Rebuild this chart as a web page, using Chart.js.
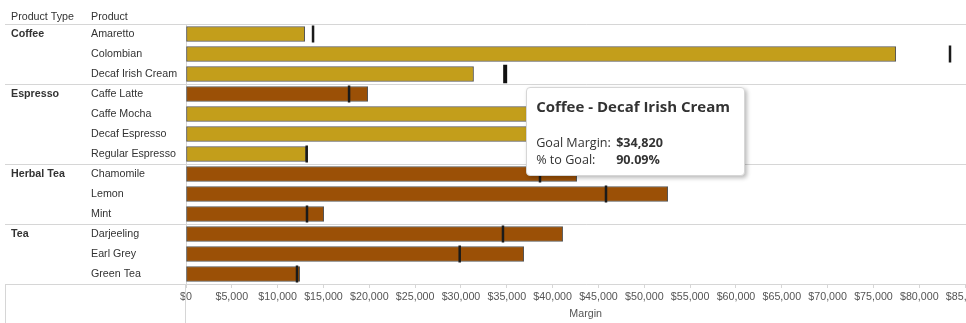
<!DOCTYPE html>
<html>
<head>
<meta charset="utf-8">
<script src="https://cdn.jsdelivr.net/npm/chart.js@4.4.0/dist/chart.umd.min.js"></script>
<style>
  body { margin: 0; overflow: hidden; background: #fff; }
  #wrap { position: relative; width: 997px; height: 323px; }
  #tip {
    position: absolute; display: none; box-sizing: border-box;
    width: 219px; height: 89px; padding: 8px 9px;
    background: #fff; border: 1px solid #d6d6d6; border-radius: 4px;
    box-shadow: 2px 2px 4px rgba(0, 0, 0, 0.28);
    font-family: "Open Sans", sans-serif; color: #333; white-space: nowrap;
  }
  #tip .t { font-size: 15px; font-weight: bold; line-height: 20px; margin-bottom: 18px; }
  #tip table { border-collapse: collapse; font-size: 12.6px; }
  #tip td { padding: 0; line-height: 17px; }
  #tip td.k { width: 80px; }
  #tip td.v { font-weight: bold; }
</style>
</head>
<body>
<div id="wrap">
  <canvas id="myChart"></canvas>
  <div id="tip"></div>
</div>
<script>
var productTypes = ['Coffee', 'Coffee', 'Coffee', 'Espresso', 'Espresso', 'Espresso', 'Espresso',
  'Herbal Tea', 'Herbal Tea', 'Herbal Tea', 'Tea', 'Tea', 'Tea'];
var products = ['Amaretto', 'Colombian', 'Decaf Irish Cream', 'Caffe Latte', 'Caffe Mocha',
  'Decaf Espresso', 'Regular Espresso', 'Chamomile', 'Lemon', 'Mint', 'Darjeeling', 'Earl Grey', 'Green Tea'];
var margins = [12950, 77430, 31370, 19820, 44500, 40800, 13090, 42620, 52550, 15020, 41090, 36840, 12400];
var goals = [13860, 83350, 34820, 17790, 51000, 46500, 13170, 38620, 45820, 13200, 34580, 29860, 12110];
var xTicks = [0, 5000, 10000, 15000, 20000, 25000, 30000, 35000, 40000, 45000,
  50000, 55000, 60000, 65000, 70000, 75000, 80000, 85000];
var shownIndex = 2;

var gold = '#c39e1b';
var brown = '#9b5006';
var lineGrey = '#d6d6d6';
var labelFont = { family: 'Liberation Sans, Arial, sans-serif', size: 10.7 };

// only the first row of each product type gets its name
var typeTicks = productTypes.map(function (t, i) {
  return i === 0 || productTypes[i - 1] !== t ? t : '';
});

function money(v) {
  return '$' + Math.round(v).toLocaleString('en-US');
}

function isGroupEdge(i) {
  if (i === undefined || i <= 0 || i >= productTypes.length) return true;
  return productTypes[i] !== productTypes[i - 1];
}

function drawTip(context) {
  var tip = document.getElementById('tip');
  var model = context.tooltip;
  if (model.opacity === 0 || !model.dataPoints || !model.dataPoints.length) {
    tip.style.display = 'none';
    return;
  }
  var i = model.dataPoints[0].dataIndex;
  var pct = margins[i] / goals[i] * 100;
  tip.innerHTML = '<div class="t">' + productTypes[i] + ' - ' + products[i] + '</div>' +
    '<table><tr><td class="k">Goal Margin:</td><td class="v">' + money(goals[i]) + '</td></tr>' +
    '<tr><td class="k">% to Goal:</td><td class="v">' + pct.toFixed(2) + '%</td></tr></table>';
  tip.style.left = (model.caretX + 21) + 'px';
  tip.style.top = (model.caretY + 13) + 'px';
  tip.style.display = 'block';
}

// column headers and the frame lines under the axis
var frame = {
  id: 'frame',
  afterDraw: function (chart) {
    var c = chart.ctx;
    var area = chart.chartArea;
    c.save();
    c.strokeStyle = lineGrey;
    c.lineWidth = 1;
    c.beginPath();
    c.moveTo(Math.round(area.left) - 0.5, area.bottom);
    c.lineTo(Math.round(area.left) - 0.5, chart.height);
    c.moveTo(5.5, area.bottom);
    c.lineTo(5.5, chart.height);
    c.stroke();
    c.fillStyle = '#333';
    c.font = labelFont.size + 'px ' + labelFont.family;
    c.textBaseline = 'middle';
    c.fillText('Product Type', chart.scales.yType.left, area.top - 7);
    c.fillText('Product', chart.scales.y.left, area.top - 7);
    c.restore();
  }
};

var ctx = document.getElementById('myChart');
var chart = new Chart(ctx, {
  data: {
    labels: products,
    datasets: [{
      type: 'bar',
      label: 'Margin',
      data: margins,
      backgroundColor: function (c) {
        return margins[c.dataIndex] >= goals[c.dataIndex] ? brown : gold;
      },
      borderColor: '#555',
      borderWidth: 1,
      borderSkipped: false,
      barThickness: 15,
      order: 1
    }, {
      type: 'line',
      label: 'Goal Margin',
      data: goals,
      showLine: false,
      pointStyle: 'line',
      pointRotation: 90,
      pointRadius: 8.4,
      pointBorderWidth: 2.5,
      pointBorderColor: '#1a1a1a',
      pointHoverRadius: 9.2,
      pointHoverBorderWidth: 4,
      pointHoverBorderColor: '#111',
      order: 0
    }]
  },
  options: {
    indexAxis: 'y',
    responsive: true,
    maintainAspectRatio: false,
    animation: false,
    events: [],
    layout: { padding: { top: 24, left: 11, right: 0, bottom: 0 } },
    plugins: {
      legend: { display: false },
      tooltip: {
        enabled: false,
        external: drawTip,
        filter: function (item) { return item.datasetIndex === 1; }
      }
    },
    scales: {
      x: {
        type: 'linear',
        min: 0,
        max: 87200,
        afterBuildTicks: function (axis) {
          axis.ticks = xTicks.map(function (v) { return { value: v }; });
        },
        afterFit: function (axis) { axis.height = 39; },
        border: { display: false },
        grid: { drawOnChartArea: false, drawTicks: true, tickLength: 4, color: lineGrey },
        ticks: {
          autoSkip: false, maxRotation: 0, padding: 3,
          color: '#555', font: labelFont,
          callback: function (v) { return money(v); }
        },
        title: {
          display: true, text: 'Margin', color: '#555', font: labelFont,
          padding: { top: 2, bottom: 3 }
        }
      },
      y: {
        type: 'category',
        position: 'left',
        weight: 0,
        offset: true,
        afterFit: function (axis) { axis.width = 95; },
        border: { display: true, color: lineGrey },
        grid: {
          offset: true,
          tickLength: 181,
          color: function (c) { return isGroupEdge(c.index) ? lineGrey : 'rgba(0,0,0,0)'; }
        },
        ticks: { crossAlign: 'far', autoSkip: false, color: '#333', font: labelFont }
      },
      yType: {
        type: 'category',
        labels: typeTicks,
        position: 'left',
        weight: 1,
        offset: true,
        afterFit: function (axis) { axis.width = 80; },
        border: { display: false },
        grid: { display: false },
        ticks: {
          crossAlign: 'far', autoSkip: false, color: '#333',
          font: { family: labelFont.family, size: labelFont.size, weight: 'bold' }
        }
      }
    }
  },
  plugins: [frame]
});

var shown = [{ datasetIndex: 1, index: shownIndex }];
var mark = chart.getDatasetMeta(1).data[shownIndex];
chart.setActiveElements(shown);
chart.tooltip.setActiveElements(shown, { x: mark.x, y: mark.y });
chart.update();
</script>
</body>
</html>
